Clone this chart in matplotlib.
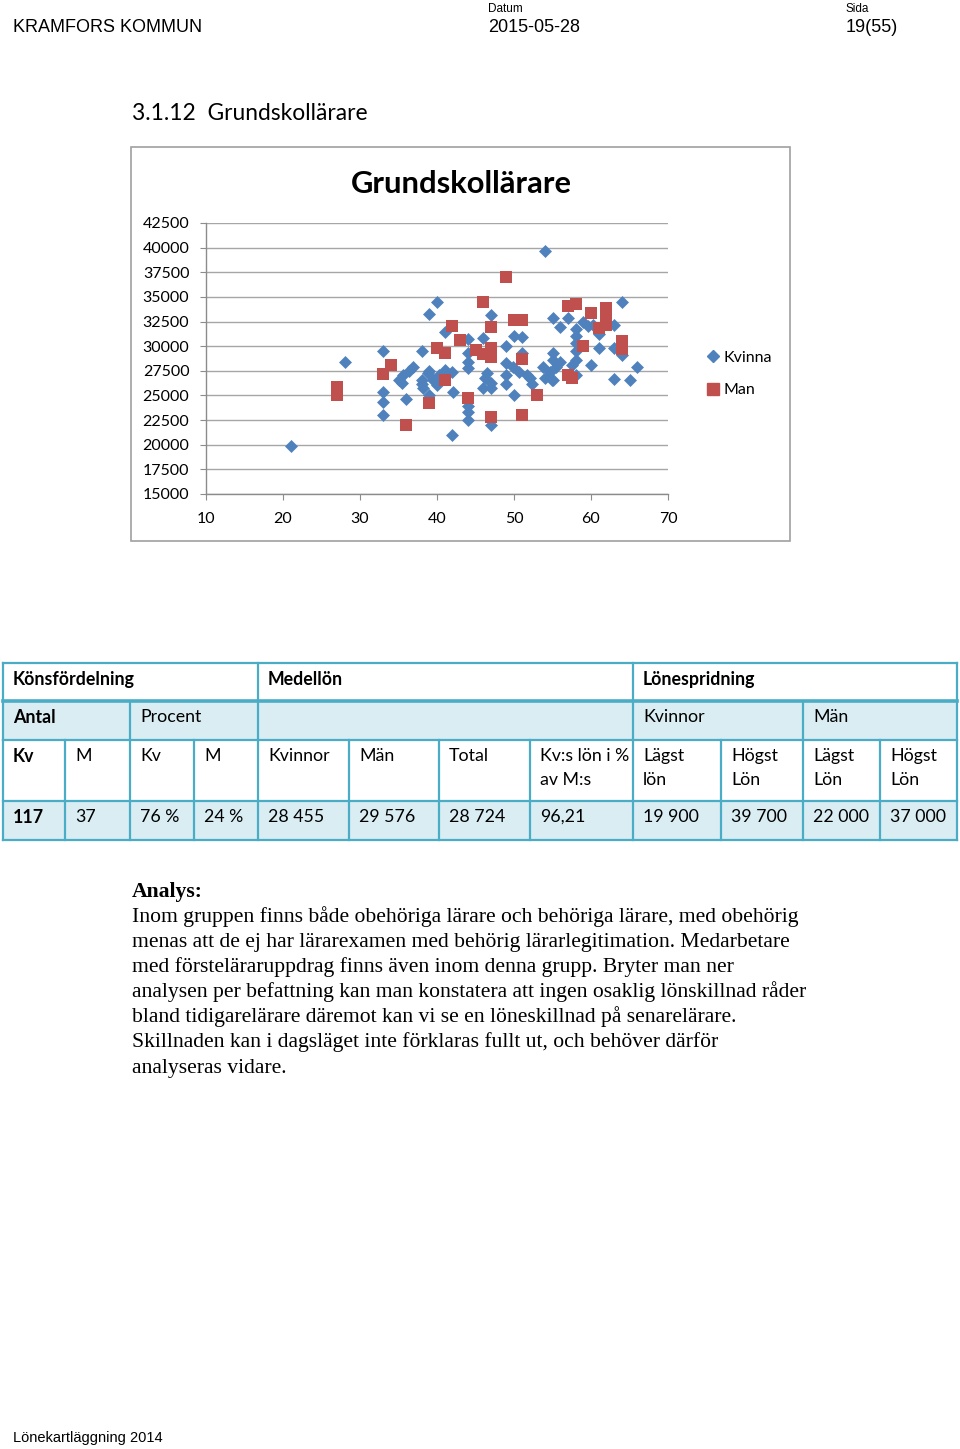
import numpy as np
import matplotlib.pyplot as plt
from matplotlib.patches import Rectangle
from matplotlib.lines import Line2D

W, H = 960, 1449
SANS = ['Lato', 'DejaVu Sans']          # stand-in for Calibri
ARIAL = ['Liberation Sans', 'DejaVu Sans']
SERIF = ['Liberation Serif', 'DejaVu Serif']

# ── Scatter data: age vs monthly salary ──
kv_age = [21, 28, 33, 33, 33, 33,
          35, 35.5, 35.6, 36.3, 36.9, 36,
          38, 38, 38.2, 38.8, 39.5, 38, 39, 39, 39,
          40, 40.2, 40, 41, 41, 41.9, 42.1, 42,
          44, 44, 44, 44, 44, 44, 44,
          46, 46.2, 47, 46, 47, 47, 47, 46.5,
          49, 49, 49.9, 49, 50.6, 49, 50, 50, 51, 51, 51.7, 52.1, 52.3,
          53.8, 54, 54.9, 54.7, 54, 55, 55, 55, 56, 55.5, 55, 56,
          57, 58, 58, 58, 58, 58, 57.5, 58, 59, 59.6, 60.3, 61, 61, 60,
          62, 63, 63, 64, 64, 63, 65, 66]
kv_lon = [19900, 28400, 29500, 25300, 24300, 23000,
          26600, 26300, 27100, 27500, 27900, 24600,
          29500, 26600, 25800, 27300, 26600, 26200, 25000, 33300, 27500,
          34500, 27100, 26100, 31400, 27600, 27400, 25400, 21000,
          30700, 29300, 28400, 27800, 23900, 23300, 22500,
          30800, 26800, 26300, 25800, 25800, 33200, 22000, 27300,
          30000, 28300, 27900, 27100, 27400, 26200, 25000, 31000, 30900, 29300, 27100, 26800, 26200,
          27900, 26800, 26600, 27400, 39700, 32900, 29300, 28600, 28400, 27900, 26600, 31900,
          32900, 31700, 31000, 30300, 29500, 28600, 28100, 27100, 32500, 32000, 32200, 31200, 29800, 28100,
          32500, 32200, 29800, 29100, 34500, 26700, 26600, 27900]

man_age = [27, 27, 33, 34, 36, 39, 40, 41, 41, 42, 43, 44, 45, 46, 46, 47, 47, 47, 47,
           49, 50, 51, 51, 51, 53, 57, 58, 57, 57.5, 59, 60, 61, 62, 62, 62, 64, 64]
man_lon = [25900, 25000, 27200, 28100, 22000, 24200, 29800, 29300, 26600, 32000, 30600,
           24700, 29600, 34500, 29200, 31900, 29800, 28900, 22800, 37000, 32700, 32700,
           28700, 23000, 25000, 34100, 34300, 27100, 26800, 30000, 33400, 31800, 33900,
           33000, 32200, 30500, 29700]

x_ticks = [10, 20, 30, 40, 50, 60, 70]
y_ticks = list(range(15000, 42501, 2500))

# ── Table contents ──
group_row = [('Könsfördelning', 0, 4), ('Medellön', 4, 8), ('Lönespridning', 8, 12)]
sub_row = [('Antal', 0, 2), ('Procent', 2, 4), ('', 4, 8), ('Kvinnor', 8, 10), ('Män', 10, 12)]
col_labels = ['Kv', 'M', 'Kv', 'M', 'Kvinnor', 'Män', 'Total', 'Kv:s lön i %\nav M:s',
              'Lägst\nlön', 'Högst\nLön', 'Lägst\nLön', 'Högst\nLön']
values = ['117', '37', '76 %', '24 %', '28 455', '29 576', '28 724', '96,21',
          '19 900', '39 700', '22 000', '37 000']

analys_lines = [
    'Inom gruppen finns både obehöriga lärare och behöriga lärare, med obehörig',
    'menas att de ej har lärarexamen med behörig lärarlegitimation. Medarbetare',
    'med förstelärаruppdrag finns även inom denna grupp. Bryter man ner'.replace('а', 'a'),
    'analysen per befattning kan man konstatera att ingen osaklig lönskillnad råder',
    'bland tidigarelärare däremot kan vi se en löneskillnad på senarelärare.',
    'Skillnaden kan i dagsläget inte förklaras fullt ut, och behöver därför',
    'analyseras vidare.',
]

BLUE = '#4F81BD'
RED = '#C0504D'
TEAL = '#4BACC6'
LIGHT = '#D9EDF3'

fig = plt.figure(figsize=(W / 100, H / 100), dpi=100)
fig.patch.set_facecolor('white')

# page axes in pixel coordinates (y down)
page = fig.add_axes([0, 0, 1, 1])
page.set_xlim(0, W)
page.set_ylim(H, 0)
page.axis('off')

# ── Header / footer ──
page.text(13, 32, 'KRAMFORS KOMMUN', fontsize=13, family=ARIAL, va='baseline')
page.text(488, 12, 'Datum', fontsize=8.5, family=ARIAL, va='baseline')
page.text(488, 32, '2015-05-28', fontsize=13, family=ARIAL, va='baseline')
page.text(846, 12, 'Sida', fontsize=8.5, family=ARIAL, va='baseline')
page.text(846, 32, '19(55)', fontsize=13, family=ARIAL, va='baseline')
page.text(13, 1442, 'Lönekartläggning 2014', fontsize=10.5, family=ARIAL, va='baseline')
page.text(132, 120, '3.1.12  Grundskollärare', fontsize=16.4, family=SANS, va='baseline')

# ── Chart frame and title ──
page.add_patch(Rectangle((131, 147), 790 - 131, 541 - 147, fill=False,
                         edgecolor='#A0A0A0', linewidth=1.2))
page.text(461, 193, 'Grundskollärare', fontsize=22.2, fontweight='bold',
          family=SANS, ha='center', va='baseline')

ax = fig.add_axes([206 / W, 1 - 494 / H, (668 - 206) / W, (494 - 223) / H])
ax.set_facecolor('none')
ax.scatter(kv_age, kv_lon, marker='D', s=6.6 ** 2, color=BLUE, linewidths=0,
           label='Kvinna', zorder=3, clip_on=False)
ax.scatter(man_age, man_lon, marker='s', s=9.2 ** 2, color=RED, linewidths=0,
           label='Man', zorder=4, clip_on=False)
ax.set_xlim(10, 70)
ax.set_ylim(15000, 42500)
ax.set_xticks(x_ticks)
ax.set_yticks(y_ticks)
ax.grid(axis='y', color='#A6A6A6', linewidth=1)
ax.set_axisbelow(True)
for s in ['top', 'right']:
    ax.spines[s].set_visible(False)
for s in ['left', 'bottom']:
    ax.spines[s].set_color('#8C8C8C')
    ax.spines[s].set_linewidth(1)
ax.tick_params(axis='both', direction='out', length=4, color='#8C8C8C',
               labelsize=11.5, labelcolor='black')
ax.tick_params(axis='y', pad=8)
ax.tick_params(axis='x', pad=9)
for lab in ax.get_xticklabels() + ax.get_yticklabels():
    lab.set_family(SANS)

handles = [Line2D([], [], marker='D', linestyle='none', color=BLUE, markersize=6),
           Line2D([], [], marker='s', linestyle='none', color=RED, markersize=8.5)]
leg = ax.legend(handles, ['Kvinna', 'Man'], loc='upper left', frameon=False,
                bbox_to_anchor=(693 / W, 1 - 336 / H), bbox_transform=fig.transFigure,
                handlelength=0.7, handletextpad=0.3, labelspacing=1.15,
                prop={'family': SANS, 'size': 11.5})

# ── Table ──
col_edges = [3, 65, 130, 194, 258, 349, 439, 530, 633, 721, 803, 880, 957]
row_edges = [663, 701, 740, 801, 840]
row_fill = ['white', LIGHT, 'white', LIGHT]
for r in range(4):
    page.add_patch(Rectangle((col_edges[0], row_edges[r]), col_edges[-1] - col_edges[0],
                             row_edges[r + 1] - row_edges[r], facecolor=row_fill[r],
                             edgecolor='none', zorder=1))


def cell_text(label, c0, row, bold=False):
    page.text(col_edges[c0] + 10, row_edges[row] + 8, label, fontsize=12.8,
              family=SANS, fontweight='bold' if bold else 'normal',
              va='top', ha='left', linespacing=1.58, zorder=3)


def vline(x, y0, y1):
    page.plot([x, x], [y0, y1], color=TEAL, linewidth=1.6, zorder=2,
              solid_capstyle='projecting')


for label, a, b in group_row:
    cell_text(label, a, 0, bold=True)
    vline(col_edges[a], row_edges[0], row_edges[1])
for label, a, b in sub_row:
    cell_text(label, a, 1, bold=(label == 'Antal'))
    vline(col_edges[a], row_edges[1], row_edges[2])
for i, label in enumerate(col_labels):
    cell_text(label, i, 2, bold=(i == 0))
    vline(col_edges[i], row_edges[2], row_edges[4])
for i, v in enumerate(values):
    cell_text(v, i, 3, bold=(i == 0))
vline(col_edges[-1], row_edges[0], row_edges[4])
for k, y in enumerate(row_edges):
    page.plot([col_edges[0], col_edges[-1]], [y, y], color=TEAL,
              linewidth=2.6 if k == 1 else 1.6, zorder=2, solid_capstyle='projecting')

# ── Analysis text ──
page.text(132, 897, 'Analys:', fontsize=15.6, fontweight='bold', family=SERIF, va='baseline')
for i, line in enumerate(analys_lines):
    page.text(132, 922 + 25.1 * i, line, fontsize=15.6, family=SERIF, va='baseline')

fig.savefig('out.png', dpi=100)
